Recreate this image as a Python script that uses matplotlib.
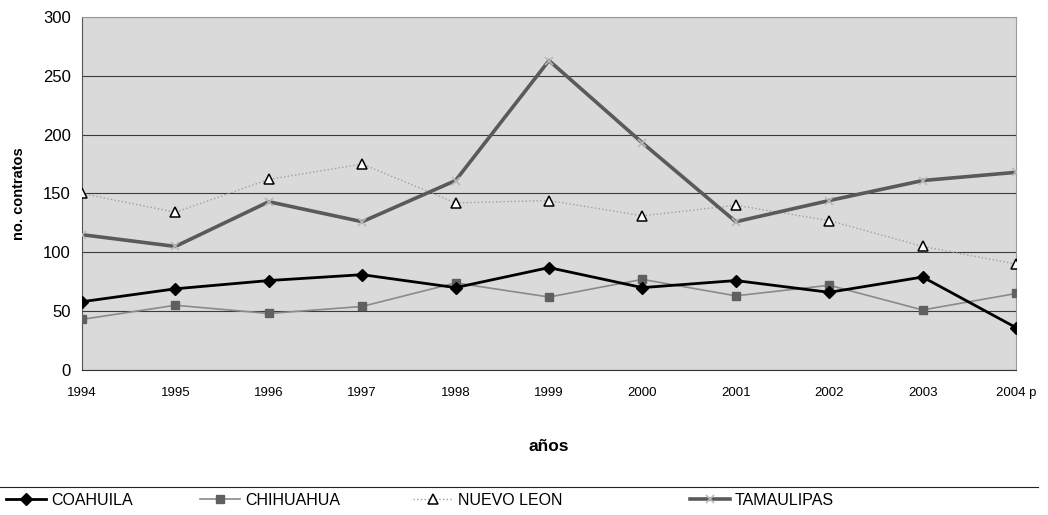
import matplotlib.pyplot as plt
from matplotlib.lines import Line2D

plt.rcParams['font.family'] = ['Liberation Sans Narrow', 'Liberation Sans', 'DejaVu Sans']

anios = ['1994', '1995', '1996', '1997', '1998', '1999', '2000', '2001', '2002', '2003', '2004 p']
coahuila = [58, 69, 76, 81, 70, 87, 70, 76, 66, 79, 36]
chihuahua = [43, 55, 48, 54, 74, 62, 77, 63, 72, 51, 65]
nuevo_leon = [150, 134, 162, 175, 142, 144, 131, 140, 127, 105, 90]
tamaulipas = [115, 105, 143, 126, 161, 263, 193, 126, 144, 161, 168]

fig = plt.figure(figsize=(10.48, 5.15), dpi=100)
ax = fig.add_axes([0.0782, 0.2816, 0.8913, 0.6854])
ax.set_facecolor('#dadada')

x = list(range(len(anios)))
ax.plot(x, nuevo_leon, color='#a0a0a0', lw=1, ls=':', marker='^', ms=7,
        mfc='white', mec='black', mew=1.1, label='NUEVO LEON', zorder=3)
ax.plot(x, tamaulipas, color='#5a5a5a', lw=2.6, marker='x', ms=6,
        mec='#b8b8b8', mew=1.2, label='TAMAULIPAS', zorder=4)
ax.plot(x, chihuahua, color='#8a8a8a', lw=1.2, marker='s', ms=6,
        mfc='#606060', mec='#606060', label='CHIHUAHUA', zorder=5)
ax.plot(x, coahuila, color='black', lw=2, marker='D', ms=6.5,
        mfc='black', mec='black', label='COAHUILA', zorder=6)

ax.set_xlim(0, len(anios) - 1)
ax.set_ylim(0, 300)
ax.set_yticks(range(0, 301, 50))
ax.set_xticks(x)
ax.set_xticklabels(anios)
ax.yaxis.grid(True, color='#3a3a3a', lw=0.8)
ax.set_axisbelow(True)
ax.tick_params(axis='y', labelsize=12, length=0, pad=8)
ax.tick_params(axis='x', labelsize=9.5, length=0, pad=12)
for s in ['top', 'right']:
    ax.spines[s].set_color('#9a9a9a')
ax.spines['left'].set_color('#555555')
ax.spines['bottom'].set_color('#333333')

ax.set_ylabel('no. contratos', fontsize=10.5, fontweight='bold', labelpad=12,
              family=['Liberation Sans', 'DejaVu Sans'])
ax.set_xlabel('años', fontsize=12.5, fontweight='bold', labelpad=29,
              family=['Liberation Sans', 'DejaVu Sans'])

# separator line above the legend row
fig.add_artist(Line2D([0.0, 0.99], [0.055, 0.055], transform=fig.transFigure,
                      color='#222222', lw=0.8))

handles = {h.get_label(): h for h in ax.get_lines()}
posiciones = {'COAHUILA': 0.0, 'CHIHUAHUA': 0.185, 'NUEVO LEON': 0.388, 'TAMAULIPAS': 0.652}
for nombre, xpos in posiciones.items():
    fig.legend(handles=[handles[nombre]], labels=[nombre], loc='center left',
               bbox_to_anchor=(xpos, 0.028), frameon=False, fontsize=11.5,
               handlelength=2.5, handletextpad=0.3, borderaxespad=0)

fig.savefig('out.png', dpi=100)
